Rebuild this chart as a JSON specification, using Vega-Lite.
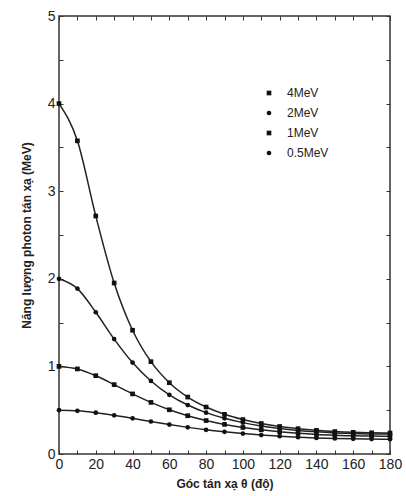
{
  "$schema": "https://vega.github.io/schema/vega-lite/v6.json",
  "width": 331,
  "height": 438,
  "autosize": {"type": "none"},
  "padding": {"left": 59, "top": 16, "right": 16, "bottom": 43},
  "background": "white",
  "config": {
    "view": {"stroke": "#333", "strokeWidth": 1.5},
    "font": "Liberation Sans"
  },
  "data": {"values": [
    {"s":"4MeV","t":0,"e":4.0},{"s":"4MeV","t":10,"e":3.575},{"s":"4MeV","t":20,"e":2.717},{"s":"4MeV","t":30,"e":1.952},{"s":"4MeV","t":40,"e":1.413},{"s":"4MeV","t":50,"e":1.054},{"s":"4MeV","t":60,"e":0.814},{"s":"4MeV","t":70,"e":0.650},{"s":"4MeV","t":80,"e":0.536},{"s":"4MeV","t":90,"e":0.453},{"s":"4MeV","t":100,"e":0.393},{"s":"4MeV","t":110,"e":0.348},{"s":"4MeV","t":120,"e":0.314},{"s":"4MeV","t":130,"e":0.289},{"s":"4MeV","t":140,"e":0.270},{"s":"4MeV","t":150,"e":0.256},{"s":"4MeV","t":160,"e":0.247},{"s":"4MeV","t":170,"e":0.242},{"s":"4MeV","t":180,"e":0.240},
    {"s":"2MeV","t":0,"e":2.0},{"s":"2MeV","t":10,"e":1.888},{"s":"2MeV","t":20,"e":1.618},{"s":"2MeV","t":30,"e":1.312},{"s":"2MeV","t":40,"e":1.044},{"s":"2MeV","t":50,"e":0.834},{"s":"2MeV","t":60,"e":0.676},{"s":"2MeV","t":70,"e":0.559},{"s":"2MeV","t":80,"e":0.472},{"s":"2MeV","t":90,"e":0.407},{"s":"2MeV","t":100,"e":0.358},{"s":"2MeV","t":110,"e":0.320},{"s":"2MeV","t":120,"e":0.291},{"s":"2MeV","t":130,"e":0.269},{"s":"2MeV","t":140,"e":0.253},{"s":"2MeV","t":150,"e":0.241},{"s":"2MeV","t":160,"e":0.233},{"s":"2MeV","t":170,"e":0.228},{"s":"2MeV","t":180,"e":0.227},
    {"s":"1MeV","t":0,"e":1.0},{"s":"1MeV","t":10,"e":0.971},{"s":"1MeV","t":20,"e":0.894},{"s":"1MeV","t":30,"e":0.792},{"s":"1MeV","t":40,"e":0.686},{"s":"1MeV","t":50,"e":0.589},{"s":"1MeV","t":60,"e":0.505},{"s":"1MeV","t":70,"e":0.437},{"s":"1MeV","t":80,"e":0.382},{"s":"1MeV","t":90,"e":0.338},{"s":"1MeV","t":100,"e":0.303},{"s":"1MeV","t":110,"e":0.276},{"s":"1MeV","t":120,"e":0.254},{"s":"1MeV","t":130,"e":0.237},{"s":"1MeV","t":140,"e":0.224},{"s":"1MeV","t":150,"e":0.215},{"s":"1MeV","t":160,"e":0.208},{"s":"1MeV","t":170,"e":0.205},{"s":"1MeV","t":180,"e":0.203},
    {"s":"0.5MeV","t":0,"e":0.5},{"s":"0.5MeV","t":10,"e":0.493},{"s":"0.5MeV","t":20,"e":0.472},{"s":"0.5MeV","t":30,"e":0.442},{"s":"0.5MeV","t":40,"e":0.407},{"s":"0.5MeV","t":50,"e":0.371},{"s":"0.5MeV","t":60,"e":0.336},{"s":"0.5MeV","t":70,"e":0.304},{"s":"0.5MeV","t":80,"e":0.276},{"s":"0.5MeV","t":90,"e":0.253},{"s":"0.5MeV","t":100,"e":0.233},{"s":"0.5MeV","t":110,"e":0.216},{"s":"0.5MeV","t":120,"e":0.203},{"s":"0.5MeV","t":130,"e":0.192},{"s":"0.5MeV","t":140,"e":0.183},{"s":"0.5MeV","t":150,"e":0.177},{"s":"0.5MeV","t":160,"e":0.173},{"s":"0.5MeV","t":170,"e":0.170},{"s":"0.5MeV","t":180,"e":0.169}
  ]},
  "layer": [
    {
      "mark": {"type": "line", "interpolate": "monotone", "color": "#222", "strokeWidth": 1.5},
      "encoding": {
        "x": {"field": "t", "type": "quantitative", "scale": {"domain": [0, 180], "nice": false},
          "axis": {"orient": "bottom", "title": "Góc tán xạ θ (độ)", "titleFontSize": 12, "titleFontWeight": "bold", "titlePadding": 7, "titleColor": "#222",
            "values": [0,10,20,30,40,50,60,70,80,90,100,110,120,130,140,150,160,170,180],
            "labelExpr": "datum.value % 20 == 0 ? format(datum.value, 'd') : ''",
            "labelFontSize": 14, "labelColor": "#222", "labelPadding": 7, "labelFlush": false,
            "tickSize": -4, "tickColor": "#333", "domain": false, "grid": false}},
        "y": {"field": "e", "type": "quantitative", "scale": {"domain": [0, 5], "nice": false},
          "axis": {"orient": "left", "title": "Năng lượng photon tán xạ (MeV)", "titleFontSize": 12, "titleFontWeight": "bold", "titlePadding": 14, "titleColor": "#222",
            "values": [0,0.5,1,1.5,2,2.5,3,3.5,4,4.5,5],
            "labelExpr": "datum.value % 1 == 0 ? format(datum.value, 'd') : ''",
            "labelFontSize": 14, "labelColor": "#222", "labelPadding": 8, "labelFlush": false,
            "tickSize": -4, "tickColor": "#333", "domain": false, "grid": false}},
        "detail": {"field": "s"}
      }
    },
    {
      "mark": {"type": "point", "filled": true, "color": "#111", "opacity": 1},
      "encoding": {
        "x": {"field": "t", "type": "quantitative",
          "axis": {"orient": "top", "title": null, "labels": false, "values": [0,10,20,30,40,50,60,70,80,90,100,110,120,130,140,150,160,170,180], "tickSize": -4, "tickColor": "#333", "domain": false, "grid": false}},
        "y": {"field": "e", "type": "quantitative",
          "axis": {"orient": "right", "title": null, "labels": false, "values": [0,0.5,1,1.5,2,2.5,3,3.5,4,4.5,5], "tickSize": -4, "tickColor": "#333", "domain": false, "grid": false}},
        "shape": {"field": "s", "type": "nominal",
          "scale": {"domain": ["4MeV","2MeV","1MeV","0.5MeV"], "range": ["square","circle","square","circle"]},
          "legend": {"title": null, "orient": "none", "legendX": 204, "legendY": 71, "labelFontSize": 12, "labelColor": "#222", "symbolFillColor": "#111", "symbolStrokeColor": "#111", "symbolSize": 22, "rowPadding": 8, "labelOffset": 12}},
        "size": {"value": 22}
      }
    }
  ],
  "resolve": {"axis": {"x": "independent", "y": "independent"}}
}
